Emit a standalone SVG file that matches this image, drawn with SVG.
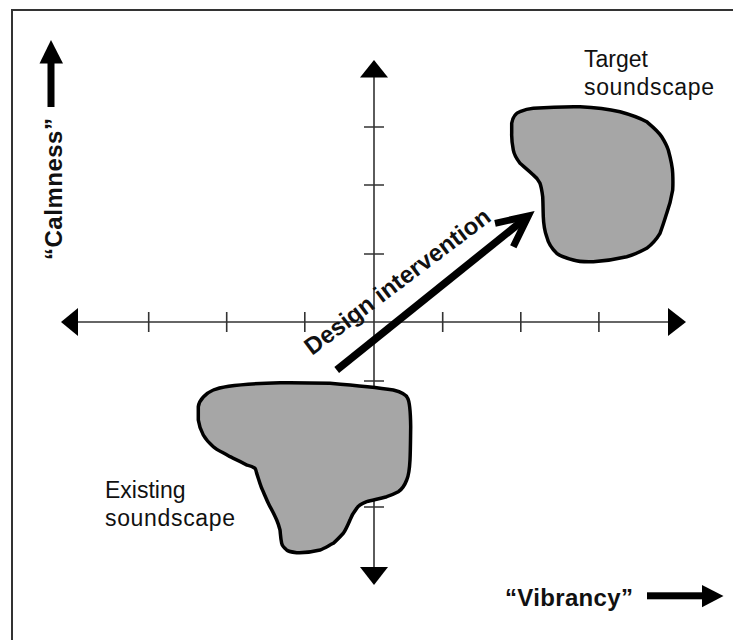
<svg xmlns="http://www.w3.org/2000/svg" width="733" height="640" viewBox="0 0 733 640">
<style>
.axis{stroke:#333;stroke-width:1.6;fill:none}
.head{fill:#000}
.blob{fill:#a6a6a6;stroke:#000;stroke-width:3.5;stroke-linejoin:round}
.lbl{font-family:"Liberation Sans",Arial,sans-serif;font-size:23px;fill:#111}
.bold{font-weight:bold;font-size:24px}
</style>
<rect x="0" y="0" width="733" height="640" fill="#fff"/>
<rect x="12" y="10" width="730" height="640" fill="none" stroke="#333" stroke-width="2"/>
<g id="axes">
<line class="axis" x1="76" y1="322" x2="670" y2="322"/>
<line class="axis" x1="374" y1="75" x2="374" y2="570"/>
<polygon class="head" points="61,322 78,308 78,336"/>
<polygon class="head" points="686,322 668,308 668,336"/>
<polygon class="head" points="374,60 360,77.5 388,77.5"/>
<polygon class="head" points="374,585 360,567 388,567"/>
<path class="axis" d="M148.7,312V332M226.7,312V332M304.8,312V332M442.7,312V332M520.8,312V332M598.9,312V332M364,127H384M364,185H384M364,254H384M364,381H384M364,444H384M364,507H384"/>
</g>
<g id="existing-blob">
<path class="blob" d="M198.3,406.7 C199,400 206,393 213.3,390 C222,386 250,383.5 280,382.7 C300,382.5 320,383 330,383.3 C350,385 380,388 393.3,390 C401,392 406,394 407.5,398 C410,402 410.5,412 410.7,426.7 C410.5,440 410.5,450 410,460 C409.5,470 408.5,476 406.7,480 C404,487 401,490 398.3,491.7 C394,494 390,495.5 386.7,496.7 C379,499 372,500 366.7,501.7 C361,504 358,506 356.7,508.3 C353,513 351,517 350,520 C347,527 345,531 343.3,533.3 C339,538 336,541 333.3,543.3 C328,546 324,548.5 320,550 C312,552 303,553 296.7,552.7 C291,552 288,551.5 286.7,550 C283,547 282,545 281.7,543.3 C280.5,538 280.5,534 280,530 C279,526 278,523 276.7,520 C274,514 272,510 270,506.7 C266,499 264,493 261.7,488.3 C259,481 258,477 256.7,473.3 C256,470 255.5,469 255,468.3 C252,466 249,465.5 246.7,465 C240,461 235,459 230,456.7 C222,452 217,450 213.3,446.7 C208,442 205,438 203.3,435 C200,429 199,425 198.3,420 Z"/>
</g>
<g id="target-blob">
<path class="blob" d="M511.7,123.3 C513,116 516,113 520,111.7 C525,109.5 529,108.6 533.3,108.3 C550,107 565,106.5 580,106.7 C595,107.5 610,109.5 620,111.7 C632,115 640,118 646.7,121.7 C653,127 658,131 661.7,136.7 C665,142 667,146 668.3,150 C671,160 672.5,167 672.7,173.3 C673,180 673,185 672.7,190 C671,200 669,207 666.7,213.3 C664,222 662,228 660,233.3 C656,240 651,245 646.7,248.3 C640,252 633,255 626.7,256.7 C615,259.5 603,261 593.3,261.7 C585,262 578,261.5 573.3,260 C566,258 560,256 556.7,253.3 C551,248 548,242 546.7,236.7 C544,229 543.5,222 543.3,216.7 C543,208 543,202 542.7,196.7 C542,191 541,186 540,183.3 C538,179 536,177 533.3,175 C528,170 523,166 520,163.3 C516,158 514,154 513.3,150 C512,143 511.5,138 511.7,133.3 Z"/>
</g>
<g id="labels">
<text class="lbl" x="584" y="67.3">Target</text>
<text class="lbl" x="584" y="95" textLength="130">soundscape</text>
<text class="lbl" x="105" y="497.7">Existing</text>
<text class="lbl" x="105" y="526" textLength="130">soundscape</text>
<text class="lbl bold" x="312" y="356" transform="rotate(-37 312 356)" textLength="226">Design intervention</text>
</g>
<g id="calmness-axis-label">
<rect x="47.5" y="62" width="7" height="45" fill="#000"/>
<polygon class="head" points="39.5,63.5 51,40 63,63.5"/>
<text class="lbl bold" transform="translate(62 189) rotate(-90)" text-anchor="middle" textLength="142">“Calmness”</text>
</g>
<g id="vibrancy-axis-label">
<text class="lbl bold" x="505" y="606" textLength="128">“Vibrancy”</text>
<rect x="647" y="592.3" width="56" height="7" fill="#000"/>
<polygon class="head" points="702,585 723.5,596 702,607.3"/>
</g>
<g id="connectors">
<line x1="336.7" y1="370" x2="524" y2="219.5" stroke="#000" stroke-width="7.5"/>
<polyline points="495,223.3 528.3,216 513.3,246.7" fill="none" stroke="#000" stroke-width="7" stroke-linejoin="miter" stroke-miterlimit="10"/>
</g>
</svg>
